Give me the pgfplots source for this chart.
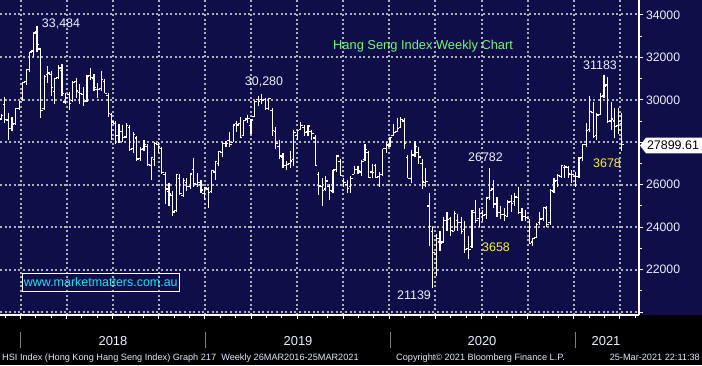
\documentclass[border=0pt]{standalone}
\usepackage{pgfplots}
\pgfplotsset{compat=1.18}
\usepackage{pgfplotstable}
\usepackage{fontspec}
\setmainfont{Liberation Sans}
\definecolor{navy}{RGB}{16,14,72}
\definecolor{gridc}{RGB}{175,175,182}
\definecolor{lbl}{RGB}{236,240,255}
\definecolor{grn}{RGB}{120,245,120}
\definecolor{yel}{RGB}{245,245,40}
\definecolor{cyn}{RGB}{30,225,245}
\definecolor{foot}{RGB}{225,230,250}
\tikzset{gridline/.style={draw=gridc, line width=2bp, dash pattern=on 2bp off 2.6bp}}
\pgfplotstableread{
k o h l c
-6 29100 29350 29050 29250
-5 29800 30130 28900 29074
-4 29050 29400 28120 28640
-3 28650 29200 28550 28848
-2 28900 29620 28820 29578
-1 29580 29950 29500 29919
0 30000 30850 29950 30814
1 30850 31420 30700 31412
2 31450 32270 31300 32255
3 32300 33220 32040 33154
4 33200 33484 32270 32601
5 32400 32450 29129 29507
6 29600 31150 29500 31115
7 31200 31600 30800 31267
8 31200 31350 30200 30583
9 30400 31050 29800 30996
10 31050 31650 31000 31502
11 31400 31700 30200 30309
12 29900 30300 29800 30093
13 30250 30350 29500 29844
14 29950 30900 29900 30808
15 30850 31050 30100 30418
16 30350 30750 29800 30281
17 30250 30600 29700 29927
18 29950 31150 29900 31122
19 31150 31500 30950 31048
20 31000 31200 30400 30588
21 30500 30800 30100 30493
22 30550 31350 30400 30958
23 30850 31000 30300 30309
24 30200 30300 29200 29338
25 29300 29400 28100 28955
26 28900 29000 27900 28316
27 28300 28850 27950 28525
28 28500 28800 28000 28224
29 28250 28900 28200 28804
30 28700 28800 27600 27676
31 27700 28500 27500 28367
32 28200 28300 27100 27213
33 27250 27800 27100 27672
34 27700 28100 27600 27888
35 27800 27900 26900 26973
36 26900 27300 26200 27286
37 27200 28000 26900 27954
38 27900 28000 27500 27788
39 27700 27800 26500 26572
40 26500 26600 25100 25801
41 25700 26100 25000 25561
42 25500 25700 24540 24717
43 24800 26500 24700 26486
44 26300 26500 25500 25601
45 25500 26300 25400 26183
46 26100 26300 25700 25928
47 25900 26550 25800 26506
48 26700 27260 25900 26063
49 26000 26550 25900 26094
50 26000 26200 25600 25753
51 25600 25900 25300 25845
52 25800 25900 24900 25626
53 25700 26700 25600 26667
54 26600 27100 26200 27090
55 27000 27600 26900 27569
56 27500 28000 27300 27930
57 27950 28050 27800 27946
58 28100 28500 27800 27900
59 28000 28850 28000 28816
60 28900 29000 28500 28812
61 28900 29200 28200 28228
62 28300 29050 28300 29012
63 29100 29300 28900 29113
64 28800 29100 28400 29051
65 29200 29950 29200 29936
66 30000 30200 29700 29909
67 30000 30280 29800 29963
68 30000 30100 29500 29605
69 29600 30100 29500 30082
70 29500 29600 28300 28550
71 28500 28700 27700 27946
72 27800 28100 27200 27354
73 27300 27500 26800 26901
74 26900 27100 26700 26965
75 27000 27600 26800 27118
76 27200 28600 26900 28473
77 28300 28600 28100 28543
78 28600 28950 28600 28775
79 28700 28800 28300 28471
80 28500 28800 28300 28765
81 28500 28600 28100 28397
82 28200 28350 26900 26919
83 26500 26600 25500 25939
84 25900 26300 25000 25734
85 25800 26400 25700 26179
86 25900 26050 25300 25725
87 25700 26700 25600 26691
88 26700 27400 26600 27353
89 27100 27200 26400 26435
90 26200 26300 25900 26092
91 26000 26200 25600 25821
92 25900 26400 25600 26308
93 26500 26900 26500 26720
94 26700 26900 26500 26667
95 26600 27150 26400 27101
96 27200 27900 27100 27651
97 27500 27600 26300 26327
98 26600 27000 26300 26596
99 26900 27000 26300 26346
100 26400 26600 25900 26498
101 26500 27700 26400 27688
102 27700 28000 27500 27871
103 27800 28250 27800 28225
104 28300 28850 28300 28452
105 28500 29150 28500 28638
106 28700 29175 28700 29056
107 29000 29150 27700 27950
108 27300 27400 26300 26313
109 26300 27650 26100 27404
110 27400 28050 27300 27816
111 27500 27800 27000 27309
112 27000 27200 25800 26130
113 26100 26800 25900 26146
114 25000 25600 23124 24033
115 23800 24000 21139 22805
116 22700 23700 21700 23484
117 23300 23800 22900 23236
118 23300 24500 23300 24300
119 24300 24700 23800 24380
120 24400 24500 23600 23831
121 23800 24750 23800 24644
122 24300 24600 23800 24230
123 24200 24500 23700 23797
124 23900 24300 22800 22930
125 23000 23600 22500 22961
126 23100 24800 23000 24770
127 24700 25300 24200 24301
128 24400 24900 24000 24644
129 24700 24800 24300 24549
130 24600 25400 24400 25373
131 25400 26782 25300 25727
132 25800 26200 24900 25089
133 25100 25400 24500 24705
134 24700 25000 24400 24595
135 24600 24900 24300 24531
136 24500 25300 24500 25183
137 25200 25500 24700 25113
138 25200 25600 25000 25422
139 25400 25900 24600 24695
140 24700 24900 24300 24503
141 24500 24800 24300 24455
142 24400 24400 23200 23235
143 23300 23500 23100 23459
144 23500 24200 23500 24119
145 24200 24700 24100 24386
146 24400 24950 24300 24918
147 24900 25000 24000 24107
148 24200 25800 24100 25712
149 25700 26300 25600 26157
150 26200 26500 25900 26451
151 26400 26900 26300 26894
152 26800 26950 26300 26835
153 26800 26900 26300 26506
154 26500 26700 26100 26498
155 26400 26600 25900 26387
156 26400 27300 26300 27231
157 27300 27900 27100 27878
158 27900 28900 27800 28573
159 28600 30200 28500 29448
160 29400 29900 28200 28284
161 28300 29400 28100 29289
162 29300 30300 29300 30173
163 30200 31183 30100 30645
164 30700 31100 28900 28980
165 29000 29900 28600 29099
166 29000 29600 28200 28740
167 28800 29600 28400 28991
168 28900 29400 27600 27899.61
}\hsi
\begin{document}
\begin{tikzpicture}[x=1bp,y=1bp]
\path[use as bounding box] (0,-50) rectangle (702,315);
\fill[black] (0,-50) rectangle (702,0);
\fill[navy] (0,0) rectangle (702,315);
% dotted grid (pixel positions of the quarter and 2000-point lines)
\foreach \gx in {20.5,66.6,112.7,158.8,204.9,251.0,297.1,343.2,389.3,435.4,481.5,527.6,573.7,619.8}
  {\draw[gridline] (\gx,0) -- (\gx,315);}
\foreach \gy in {3,45.5,88,130.5,173,215.5,258,300.5}
  {\draw[gridline] (0,\gy) -- (639,\gy);}
\begin{axis}[
  at={(0,0)}, anchor=south west, scale only axis,
  width=639bp, height=315bp,
  xmin=-5.81, xmax=173.4, ymin=19860, ymax=34706,
  axis x line*=bottom, axis y line*=right,
  axis line style={white, line width=1.2bp, -},
  xtick={-0.06,12.87,...,170}, xticklabels={},
  minor xtick={-4.37,-0.06,...,173.4},
  ytick={20000,22000,...,34000},
  yticklabels={,22000,24000,26000,,30000,32000,34000},
  minor ytick={21000,23000,...,33000},
  tick align=outside,
  major tick length=3.5bp, minor tick length=3bp,
  tick style={white, line width=1bp},
  yticklabel style={text=lbl, font=\fontsize{12.3}{14}\selectfont},
  clip=false,
]
\addplot[draw=none, mark=none, forget plot,
  error bars/.cd, y dir=minus, y explicit, error mark=none,
  error bar style={draw=white, solid, line width=1.15bp}]
  table[x expr=\thisrow{k}+0.57, y=h, y error minus expr=\thisrow{h}-\thisrow{l}] {\hsi};
\addplot[draw=none, mark=none, forget plot,
  error bars/.cd, x dir=minus, x fixed=0.6, error mark=none,
  error bar style={draw=white, solid, line width=1.15bp}]
  table[x expr=\thisrow{k}+0.57, y=o] {\hsi};
\addplot[draw=none, mark=none, forget plot,
  error bars/.cd, x dir=plus, x fixed=0.6, error mark=none,
  error bar style={draw=white, solid, line width=1.15bp}]
  table[x expr=\thisrow{k}+0.57, y=c] {\hsi};
\end{axis}
% annotations
\begin{scope}[every node/.style={inner sep=0pt, font=\fontsize{12.5}{14}\selectfont}]
\node[text=lbl] at (61,291) {33,484};
\node[text=lbl] at (264,233) {30,280};
\node[text=grn, anchor=west, font=\fontsize{12.9}{14}\selectfont] at (333,269) {Hang Seng Index Weekly Chart};
\node[text=lbl] at (600,250) {31183};
\node[text=lbl] at (485.5,158) {26782};
\node[text=yel] at (607,152) {3678};
\node[text=yel] at (496,68) {3658};
\node[text=lbl] at (414,20) {21139};
\draw[white, line width=1bp] (22.3,24) rectangle (179.3,41.7);
\node[text=cyn] at (100.8,32.8) {www.marketmatters.com.au};
\fill[white] (640,169.5) -- (646,177.3) -- (702,177.3) -- (702,161.7) -- (646,161.7) -- cycle;
\node[text=black] at (673,169.5) {27899.61};
% year separators and labels
\foreach \xx in {20.7,205,390.7,575.7} {\draw[gray, line width=1bp] (\xx,-16.7) -- (\xx,-33.3);}
\node[text=lbl, font=\fontsize{13}{14}\selectfont] at (113,-26) {2018};
\node[text=lbl, font=\fontsize{13}{14}\selectfont] at (298,-26) {2019};
\node[text=lbl, font=\fontsize{13}{14}\selectfont] at (482,-26) {2020};
\node[text=lbl, font=\fontsize{13}{14}\selectfont] at (606,-26) {2021};
\node[text=foot, anchor=west, font=\fontsize{9.2}{11}\selectfont] at (2,-42.7) {HSI Index (Hong Kong Hang Seng Index) Graph 217\ \ Weekly 26MAR2016-25MAR2021};
\node[text=foot, anchor=west, font=\fontsize{9.2}{11}\selectfont] at (396,-42.7) {Copyright\textcopyright\ 2021 Bloomberg Finance L.P.};
\node[text=foot, anchor=east, font=\fontsize{9.2}{11}\selectfont] at (700,-42.7) {25-Mar-2021 22:11:38};
\end{scope}
\end{tikzpicture}
\end{document}
